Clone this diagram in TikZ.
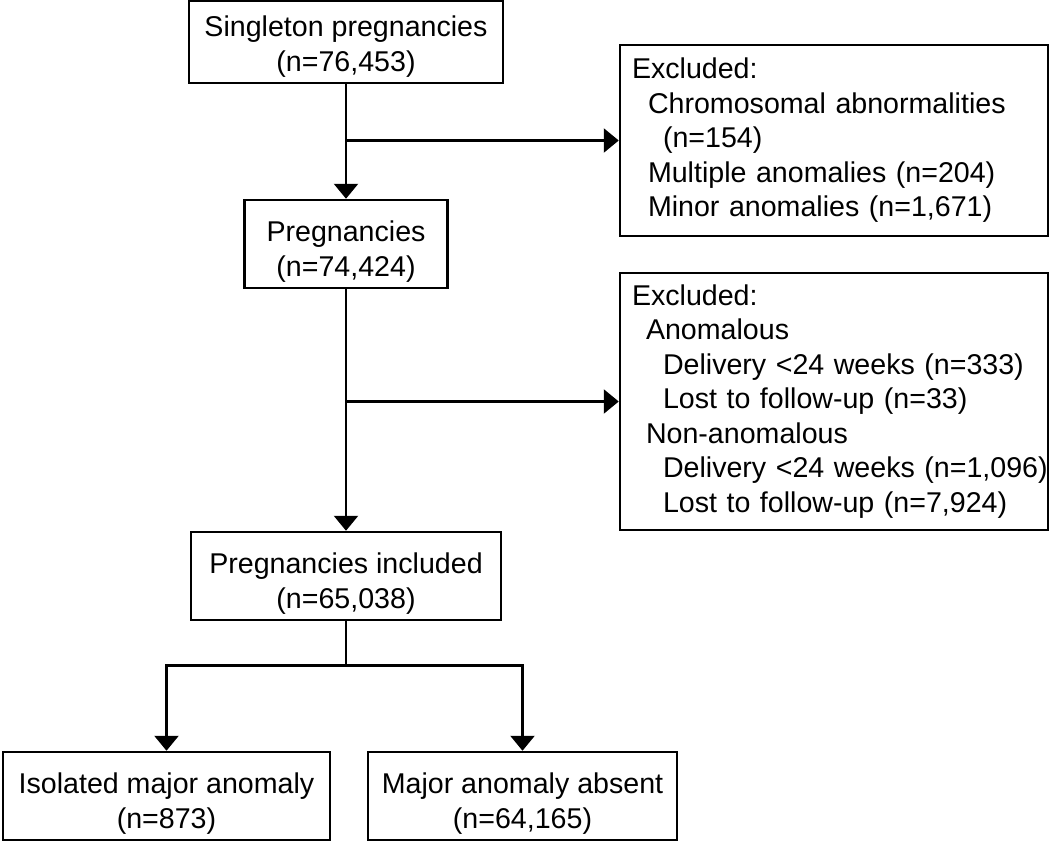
\documentclass[tikz,border=0pt]{standalone}
\usepackage{fontspec}
\setmainfont{Liberation Sans}
\usetikzlibrary{arrows.meta}
\newcommand{\topstrut}[1]{\rule{0pt}{#1}}
\begin{document}
\begin{tikzpicture}[x=1pt,y=-1pt,
  box/.style={draw=black, line width=2.5pt, align=center, inner sep=0pt, font=\fontsize{28.6}{35}\selectfont},
  exbox/.style={draw=black, line width=2.5pt, align=left, inner xsep=0pt, inner ysep=0pt, text width=428pt, minimum width=428pt, font=\fontsize{28.6}{34.5}\selectfont},
  arr/.style={line width=2.5pt, -{Triangle[length=15pt,width=24pt]}},
  ln/.style={line width=2.5pt}]
\useasboundingbox (0,0) rectangle (1050,841);
\node[box, minimum width=314pt, minimum height=82pt] (b1) at (346,42) {\topstrut{29pt}Singleton pregnancies\\(n=76,453)};
\node[box, minimum width=203pt, minimum height=88pt] (b2) at (346,244) {\topstrut{35pt}Pregnancies\\(n=74,424)};
\node[box, minimum width=310pt, minimum height=88pt] (b3) at (346,576) {\topstrut{35pt}Pregnancies included\\(n=65,038)};
\node[box, minimum width=327pt, minimum height=88pt] (b4) at (166.5,796) {\topstrut{35pt}Isolated major anomaly\\(n=873)};
\node[box, minimum width=309pt, minimum height=88pt] (b5) at (522.5,796) {\topstrut{35pt}Major anomaly absent\\(n=64,165)};
\node[exbox, minimum height=191pt] (ex1) at (834,140.5) {\hspace*{12pt}Excluded:\\
\hspace*{28pt}Chromosomal abnormalities\\
\hspace*{43pt}(n=154)\\
\hspace*{28pt}Multiple anomalies (n=204)\\
\hspace*{28pt}Minor anomalies (n=1,671)};
\node[exbox, minimum height=257pt] (ex2) at (834,401.5) {\hspace*{12pt}Excluded:\\
\hspace*{26pt}Anomalous\\
\hspace*{43pt}Delivery <24 weeks (n=333)\\
\hspace*{43pt}Lost to follow-up (n=33)\\
\hspace*{26pt}Non-anomalous\\
\hspace*{43pt}Delivery <24 weeks (n=1,096)\\
\hspace*{43pt}Lost to follow-up (n=7,924)};
\draw[arr] (b1.south) -- (b2.north);
\draw[arr] (b1.south |- ex1.west) -- (ex1.west);
\draw[arr] (b2.south) -- (b3.north);
\draw[arr] (b2.south |- ex2.west) -- (ex2.west);
\draw[ln] (b3.south) -- ++(0,44) coordinate (split);
\draw[arr] (split) -| (b4.north);
\draw[arr] (split) -| (b5.north);
\end{tikzpicture}
\end{document}
